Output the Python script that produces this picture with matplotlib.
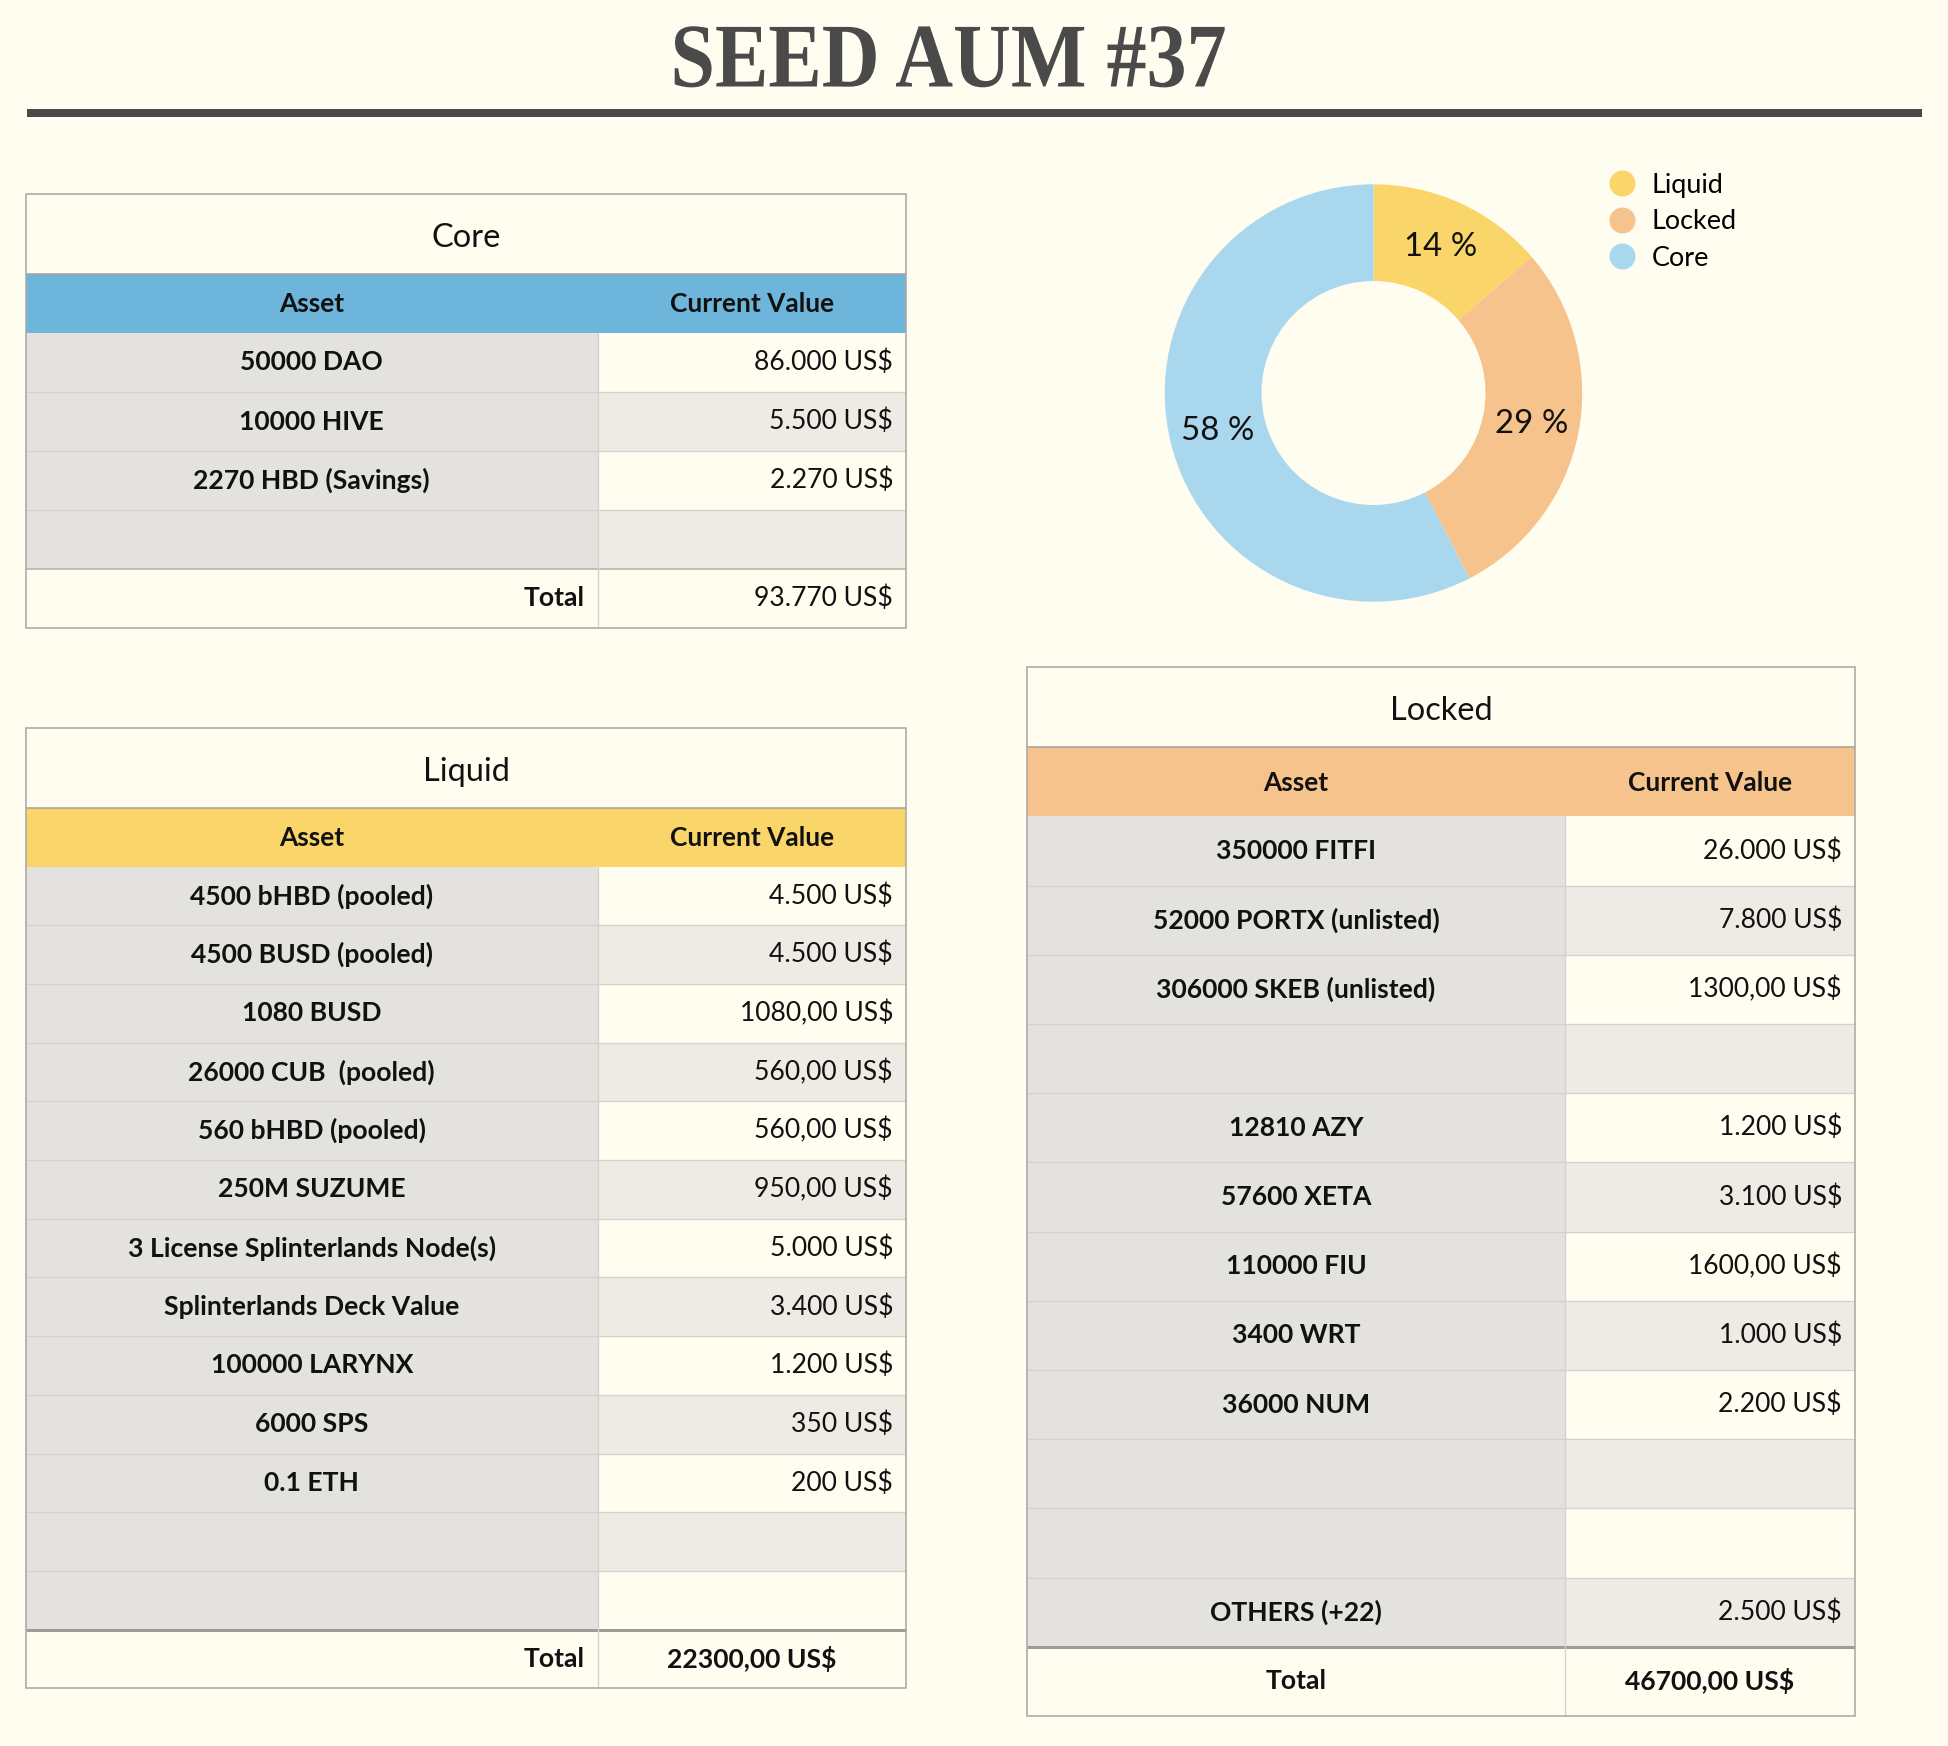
import matplotlib
matplotlib.use("Agg")
import matplotlib.pyplot as plt
from matplotlib.patches import Rectangle
from matplotlib.lines import Line2D
from matplotlib.patheffects import AbstractPathEffect
from matplotlib.transforms import Affine2D

# ---------------- data ----------------
title = "SEED AUM #37"

core_assets = ["50000 DAO", "10000 HIVE", "2270 HBD (Savings)", ""]
core_values = ["86.000 US$", "5.500 US$", "2.270 US$", ""]
core_total = "93.770 US$"

liquid_assets = ["4500 bHBD (pooled)", "4500 BUSD (pooled)", "1080 BUSD",
                 "26000 CUB  (pooled)", "560 bHBD (pooled)", "250M SUZUME",
                 "3 License Splinterlands Node(s)", "Splinterlands Deck Value",
                 "100000 LARYNX", "6000 SPS", "0.1 ETH", "", ""]
liquid_values = ["4.500 US$", "4.500 US$", "1080,00 US$", "560,00 US$",
                 "560,00 US$", "950,00 US$", "5.000 US$", "3.400 US$",
                 "1.200 US$", "350 US$", "200 US$", "", ""]
liquid_total = "22300,00 US$"

locked_assets = ["350000 FITFI", "52000 PORTX (unlisted)", "306000 SKEB (unlisted)",
                 "", "12810 AZY", "57600 XETA", "110000 FIU", "3400 WRT",
                 "36000 NUM", "", "", "OTHERS (+22)"]
locked_values = ["26.000 US$", "7.800 US$", "1300,00 US$", "", "1.200 US$",
                 "3.100 US$", "1600,00 US$", "1.000 US$", "2.200 US$", "", "",
                 "2.500 US$"]
locked_total = "46700,00 US$"

pie_labels = ["Liquid", "Locked", "Core"]
pie_values = [22300, 46700, 93770]

header_labels = ["Asset", "Current Value"]
total_label = "Total"

# ---------------- style ----------------
W, H, DPI = 1948, 1746, 100
BG = "#FFFCF0"
GRAY_L = "#E3E2DF"
GRAY_R = "#EEEBE5"
LINE = "#D3D1CC"
BORDER = "#ABA9A4"
DARK = "#4A4A4A"
C_CORE_H = "#6DB5DA"
C_LIQ = "#F9D56A"
C_LOCK = "#F5C38B"
C_CORE_P = "#A8D7EE"
FONT = ["Lato", "DejaVu Sans"]


def px(v):
    return v * 72.0 / DPI


class HSqueeze(AbstractPathEffect):
    def __init__(self, sx, cx):
        super().__init__()
        self.sx, self.cx = sx, cx

    def draw_path(self, renderer, gc, tpath, affine, rgbFace=None):
        t = affine + Affine2D().translate(-self.cx, 0).scale(self.sx, 1).translate(self.cx, 0)
        renderer.draw_path(gc, tpath, t, rgbFace)


fig = plt.figure(figsize=(W / DPI, H / DPI), dpi=DPI, facecolor=BG)
ax = fig.add_axes([0, 0, 1, 1])
ax.set_xlim(0, W)
ax.set_ylim(H, 0)
ax.axis("off")
ax.set_facecolor(BG)

# title + rule
TITLE_CX = 948.5
fig.text(TITLE_CX / W, 1 - 86.5 / H, title, ha="center", va="baseline",
         family=["Liberation Serif", "DejaVu Serif"], weight="bold",
         fontsize=px(91), color=DARK,
         path_effects=[HSqueeze(0.88, TITLE_CX)])
ax.add_patch(Rectangle((27, 109), 1895, 8, fc=DARK, ec="none"))


def hline(x0, x1, y, color=LINE, lw=1.3):
    ax.plot([x0, x1], [y, y], color=color, lw=px(lw), solid_capstyle="butt", zorder=3)


def vline(x, y0, y1, color=LINE, lw=1.3):
    ax.plot([x, x], [y0, y1], color=color, lw=px(lw), solid_capstyle="butt", zorder=3)


def draw_table(x0, x1, xdiv, y0, title_h, header_h, row_h, name, hcolor,
               assets, values, total, total_center, total_bold, total_line):
    fs_title, fs_head, fs_data = px(32.5), px(26.3), px(26.5)
    pad = 13
    y = y0
    ax.add_patch(Rectangle((x0, y), x1 - x0, title_h, fc=BG, ec="none", zorder=1))
    ax.text((x0 + x1) / 2, y + title_h / 2 + 4, name, ha="center", va="center",
            family=FONT, fontsize=fs_title, color="#111111", zorder=4)
    y += title_h
    ax.add_patch(Rectangle((x0, y), x1 - x0, header_h, fc=hcolor, ec="none", zorder=1))
    hline(x0, x1, y, color="#A8A49C", lw=1.6)
    ax.text((x0 + xdiv) / 2, y + header_h / 2 + 1, header_labels[0], ha="center", va="center",
            family=FONT, weight="bold", fontsize=fs_head, color="#111111", zorder=4)
    ax.text((xdiv + x1) / 2, y + header_h / 2 + 1, header_labels[1], ha="center", va="center",
            family=FONT, weight="bold", fontsize=fs_head, color="#111111", zorder=4)
    y += header_h
    ytop_rows = y
    for i, (a, v) in enumerate(zip(assets, values)):
        ax.add_patch(Rectangle((x0, y), xdiv - x0, row_h, fc=GRAY_L, ec="none", zorder=1))
        ax.add_patch(Rectangle((xdiv, y), x1 - xdiv, row_h,
                               fc=BG if i % 2 == 0 else GRAY_R, ec="none", zorder=1))
        if i > 0:
            hline(x0, x1, y)
        ax.text((x0 + xdiv) / 2, y + row_h / 2, a, ha="center", va="center",
                family=FONT, weight="bold", fontsize=fs_data, color="#111111", zorder=4)
        ax.text(x1 - pad, y + row_h / 2, v, ha="right", va="center",
                family=FONT, fontsize=fs_data, color="#111111", zorder=4)
        y += row_h
    # total row
    ax.add_patch(Rectangle((x0, y), x1 - x0, row_h, fc=BG, ec="none", zorder=1))
    if total_line:
        hline(x0, x1, y, color="#9E9C97", lw=3)
    else:
        hline(x0, x1, y, color="#B5B3AE", lw=1.6)
    if total_center:
        ax.text((x0 + xdiv) / 2, y + row_h / 2, total_label, ha="center", va="center",
                family=FONT, weight="bold", fontsize=fs_data, color="#111111", zorder=4)
    else:
        ax.text(xdiv - pad, y + row_h / 2, total_label, ha="right", va="center",
                family=FONT, weight="bold", fontsize=fs_data, color="#111111", zorder=4)
    if total_bold:
        ax.text((xdiv + x1) / 2, y + row_h / 2, total, ha="center", va="center",
                family=FONT, weight="bold", fontsize=fs_data, color="#111111", zorder=4)
    else:
        ax.text(x1 - pad, y + row_h / 2, total, ha="right", va="center",
                family=FONT, fontsize=fs_data, color="#111111", zorder=4)
    y += row_h
    vline(xdiv, ytop_rows, y)
    ax.add_patch(Rectangle((x0, y0), x1 - x0, y - y0, fc="none", ec=BORDER,
                           lw=px(1.6), zorder=5))


draw_table(26, 906, 597.5, 194, 80, 59, 59, "Core", C_CORE_H,
           core_assets, core_values, core_total, False, False, False)
draw_table(26, 906, 597.5, 728, 80, 58.5, 58.7, "Liquid", C_LIQ,
           liquid_assets, liquid_values, liquid_total, False, True, True)
draw_table(1027, 1855, 1565, 667, 80, 69.3, 69.2, "Locked", C_LOCK,
           locked_assets, locked_values, locked_total, True, True, True)

# ---------------- donut ----------------
cx, cy, R = 1373.5, 393.0, 208.7
pax = fig.add_axes([(cx - R) / W, 1 - (cy + R) / H, 2 * R / W, 2 * R / H])
wedges, _, autotexts = pax.pie(
    pie_values, colors=[C_LIQ, C_LOCK, C_CORE_P], startangle=90, counterclock=False,
    wedgeprops=dict(width=1 - 112 / R, edgecolor="none"),
    autopct=lambda p: f"{p:.0f} %", pctdistance=0.77,
    textprops=dict(family=FONT, fontsize=px(33), color="#111111"))
pax.set_xlim(-1, 1)
pax.set_ylim(-1, 1)
pax.set_aspect("equal")

handles = [Line2D([], [], ls="", marker="o", markersize=px(26), color=c, markeredgewidth=0)
           for c in [C_LIQ, C_LOCK, C_CORE_P]]
fig.legend(handles, pie_labels, loc="upper left",
           bbox_to_anchor=(1608.5 / W, 1 - 172.5 / H), bbox_transform=fig.transFigure,
           frameon=False, borderpad=0, borderaxespad=0, handlelength=1.0,
           handletextpad=0.6, labelspacing=0.43,
           prop=dict(family=FONT, size=px(27)))

fig.savefig("out.png", dpi=DPI, facecolor=BG)
